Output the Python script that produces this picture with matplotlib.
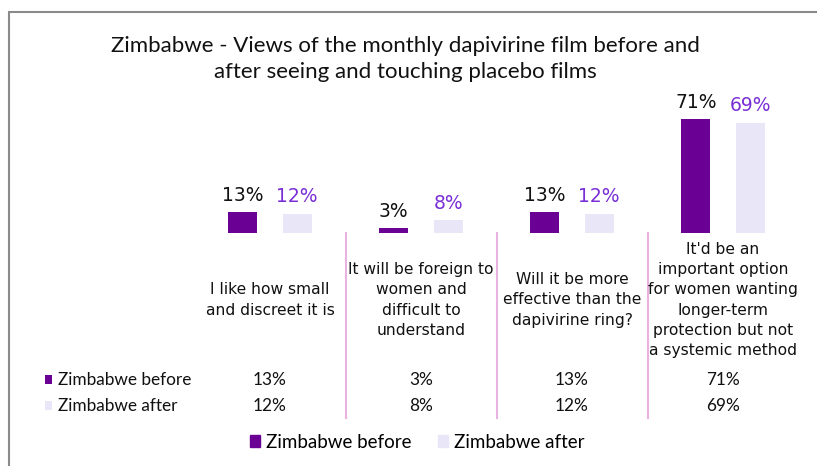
import matplotlib
matplotlib.use("Agg")
import matplotlib.pyplot as plt
from matplotlib.patches import Rectangle, Patch
from matplotlib.lines import Line2D
import matplotlib.transforms as mtrans

categories = [
    "I like how small\nand discreet it is",
    "It will be foreign to\nwomen and\ndifficult to\nunderstand",
    "Will it be more\neffective than the\ndapivirine ring?",
    "It'd be an\nimportant option\nfor women wanting\nlonger-term\nprotection but not\na systemic method",
]
series_names = ["Zimbabwe before", "Zimbabwe after"]
before = [13, 3, 13, 71]
after = [12, 8, 12, 69]
title = "Zimbabwe - Views of the monthly dapivirine film before and\nafter seeing and touching placebo films"

C_BEFORE = "#6a0094"
C_AFTER = "#e9e6f8"
C_AFTER_TXT = "#7a2fd6"
C_DIV = "#eab2e0"

W, H = 817, 466
fig = plt.figure(figsize=(W / 100, H / 100), dpi=100)

def fx(px):
    return px / W

def fy(py):
    return 1 - py / H

# axes: x from -0.5..3.5 maps to px 194.5..798.5 ; y 0..75 maps to px 233..113
ax = fig.add_axes([fx(194.5), fy(233), fx(798.5) - fx(194.5), 120 / H])
ax.set_xlim(-0.5, 3.5)
ax.set_ylim(0, 75)
ax.axis("off")

off = 0.18
bw = 0.19
xs = list(range(len(categories)))
b1 = ax.bar([x - off for x in xs], before, width=bw, color=C_BEFORE)
b2 = ax.bar([x + off for x in xs], after, width=bw, color=C_AFTER)

for rect, v in zip(b1, before):
    ax.annotate(f"{v}%", (rect.get_x() + rect.get_width() / 2, v), xytext=(0, 5.5),
                textcoords="offset points", ha="center", va="bottom",
                fontsize=13.5, color="#111111", family="DejaVu Sans", annotation_clip=False)
for rect, v in zip(b2, after):
    ax.annotate(f"{v}%", (rect.get_x() + rect.get_width() / 2, v), xytext=(0, 5.5),
                textcoords="offset points", ha="center", va="bottom",
                fontsize=13.5, color=C_AFTER_TXT, family="DejaVu Sans", annotation_clip=False)

# blended transform: x in data, y in figure
bt = mtrans.blended_transform_factory(ax.transData, fig.transFigure)

# dividers
for xd in [0.5, 1.5, 2.5]:
    fig.add_artist(Line2D([xd, xd], [fy(233), fy(418)], transform=bt, color=C_DIV, lw=1.5))

# category labels
for x, lab in zip(xs, categories):
    fig.text(x, fy(300), lab, transform=bt, ha="center", va="center", fontsize=11.2,
             family="DejaVu Sans", color="#111111", linespacing=1.42)

# data table
row_y = [fy(380), fy(406)]
for ry, name, vals, col in zip(row_y, series_names, [before, after], [C_BEFORE, C_AFTER]):
    fig.add_artist(Rectangle((fx(45), ry - 4 / H), 7 / W, 9 / H, transform=fig.transFigure,
                             color=col, lw=0))
    fig.text(fx(58), ry, name, ha="left", va="center", fontsize=12.4, family="Lato",
             color="#111111")
    for x, v in zip(xs, vals):
        fig.text(x, ry, f"{v}%", transform=bt, ha="center", va="center", fontsize=12.4,
                 family="Lato", color="#111111")

# title
fig.text(fx(405), fy(59), title, ha="center", va="center", fontsize=16, family="Lato",
         color="#111111", linespacing=1.42)

# legend
handles = [Patch(color=C_BEFORE), Patch(color=C_AFTER)]
fig.legend(handles, series_names, loc="center", bbox_to_anchor=(fx(417), fy(442)), ncol=2,
           frameon=False, prop={"family": "Lato", "size": 13.5}, handlelength=0.55,
           handleheight=0.6, handletextpad=0.3, columnspacing=1.4)

# outer border
fig.add_artist(Line2D([fx(8.5), fx(8.5), 1.0], [0, fy(11.5), fy(11.5)], transform=fig.transFigure,
                      color="#8a8a8a", lw=1.5, solid_joinstyle="miter"))

fig.savefig("out.png", dpi=100)
